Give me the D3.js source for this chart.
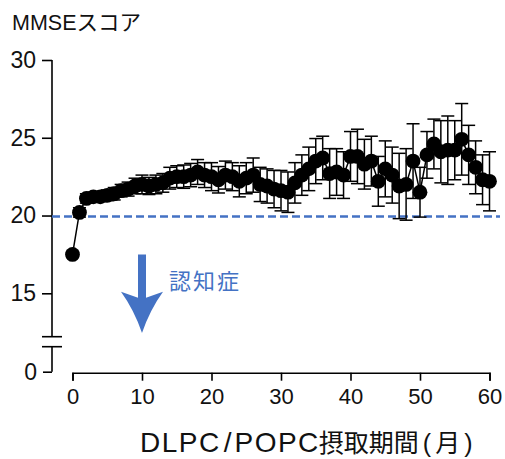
<!DOCTYPE html>
<html>
<head>
<meta charset="utf-8">
<script src="https://cdn.jsdelivr.net/npm/d3@7"></script>
<style>
  html, body { margin: 0; padding: 0; background: #fff; }
  svg { display: block; }
  text { font-family: "Liberation Sans", Arial, "Noto Sans CJK JP", sans-serif; }
</style>
</head>
<body>
<svg id="chart" width="505" height="459"></svg>
<script>
// ---- data ----
const months = d3.range(0, 61);
const mmseMean = [
  17.5, 20.2, 21.1, 21.2, 21.2, 21.3, 21.4, 21.6, 21.7, 21.9,
  22.0, 21.9, 22.0, 22.1, 22.4, 22.5, 22.5, 22.6, 22.8, 22.6,
  22.5, 22.3, 22.6, 22.5, 22.2, 22.4, 22.6, 22.0, 21.9, 21.7,
  21.6, 21.5, 22.1, 22.6, 23.0, 23.5, 23.7, 22.7, 22.8, 22.6,
  23.8, 23.8, 23.3, 23.5, 22.2, 23.0, 22.6, 21.9, 22.0, 23.5,
  21.5, 23.9, 24.6, 24.1, 24.2, 24.2, 24.9, 23.9, 23.1, 22.3,
  22.2
];
const mmseErr = [
  0.2, 0.3, 0.3, 0.3, 0.3, 0.35, 0.4, 0.4, 0.45, 0.5,
  0.6, 0.55, 0.6, 0.6, 0.7, 0.7, 0.75, 0.75, 0.8, 0.8,
  0.9, 0.85, 0.9, 0.9, 1.0, 1.0, 1.1, 1.1, 1.1, 1.2,
  1.3, 1.3, 1.3, 1.3, 1.4, 1.45, 1.4, 1.6, 1.5, 1.5,
  1.6, 1.75, 1.6, 1.6, 1.6, 1.8, 1.8, 2.1, 2.3, 2.4,
  1.6, 1.5, 1.6, 2.0, 2.2, 1.9, 2.3, 1.9, 1.7, 1.6,
  1.9
];
const xTicks = [0, 10, 20, 30, 40, 50, 60];
const yTicks = [15, 20, 25, 30];
const yLowTicks = [0];
const threshold = 20;
const yTitle = "MMSEスコア";
const xTitleParts = ["DLPC", "/", "POPC", "摂取期間", "(", "月", ")"];
const dementiaLabel = "認知症";

// ---- layout ----
const svg = d3.select("#chart");
const blue = "#4472C4";

const x = d3.scaleLinear().domain([0, 60]).range([72.5, 489.5]);
const y = d3.scaleLinear().domain([15, 30]).range([293.3, 60]);
const yLow = d3.scaleLinear().domain([0, 1.6]).range([371.7, 346.7]);
const axisX = 52;
const breakTop = 336.7;

// y axis upper segment
const gy = svg.append("g").attr("transform", `translate(${axisX},0)`)
  .call(d3.axisLeft(y).tickValues(yTicks).tickFormat(d3.format("d"))
    .tickSize(10).tickSizeOuter(0).tickPadding(6));
gy.select(".domain").remove();
gy.append("line").attr("x1", 0).attr("x2", 0).attr("y1", y(30)).attr("y2", breakTop)
  .attr("stroke", "#000").attr("stroke-width", 1.6);

// y axis lower segment
const gyl = svg.append("g").attr("transform", `translate(${axisX},0)`)
  .call(d3.axisLeft(yLow).tickValues(yLowTicks).tickFormat(d3.format("d"))
    .tickSize(9).tickSizeOuter(0).tickPadding(6));
gyl.select(".domain").remove();
gyl.append("line").attr("x1", 0).attr("x2", 0).attr("y1", yLow(1.6)).attr("y2", yLow(0))
  .attr("stroke", "#000").attr("stroke-width", 1.6);

// break marks
[breakTop, yLow(1.6)].forEach(yy => {
  svg.append("line").attr("x1", axisX - 10).attr("x2", axisX + 10)
    .attr("y1", yy).attr("y2", yy).attr("stroke", "#000").attr("stroke-width", 1.6);
});

[gy, gyl].forEach(g => {
  g.selectAll(".tick line").attr("stroke", "#000").attr("stroke-width", 1.6);
  g.selectAll(".tick text").attr("fill", "#111").style("font-size", "23px")
    .attr("font-family", null);
});

// x axis
const gx = svg.append("g").attr("transform", `translate(0,372.7)`)
  .call(d3.axisBottom(x).tickValues(xTicks).tickSize(8).tickPadding(8));
gx.select(".domain").attr("stroke", "#000").attr("stroke-width", 1.6);
gx.selectAll(".tick line").attr("stroke", "#000").attr("stroke-width", 1.6);
gx.selectAll(".tick text").attr("fill", "#111").style("font-size", "22px")
  .attr("font-family", null);

// titles
svg.append("text").attr("x", 12).attr("y", 30).text(yTitle)
  .style("font-size", "21.5px").attr("fill", "#111");

const xt = svg.append("text").attr("x", 140).attr("y", 452)
  .style("font-size", "25px").attr("fill", "#111");
const partStyle = [
  { ls: 1.5, dx: 0, fs: 28 }, { ls: 0, dx: 3, fs: 28 }, { ls: 1.5, dx: 3, fs: 28 },
  { ls: 0, dx: -1, fs: 25 }, { ls: 0, dx: 4, fs: 25 }, { ls: 0, dx: 4, fs: 25 },
  { ls: 0, dx: 4, fs: 25 }
];
xTitleParts.forEach((p, i) => {
  xt.append("tspan").attr("dx", partStyle[i].dx)
    .style("font-size", partStyle[i].fs + "px")
    .style("letter-spacing", partStyle[i].ls + "px").text(p);
});

// threshold dashed line
svg.append("line").attr("x1", axisX).attr("x2", 500)
  .attr("y1", y(threshold) + 1).attr("y2", y(threshold) + 1)
  .attr("stroke", blue).attr("stroke-width", 2.5).attr("stroke-dasharray", "8,4");

// dementia arrow
const ax = x(10);
const aTop = y(17.5), aHeadStart = y(15.1), aTip = y(12.45);
const shaftW = 4, headW = 21;
svg.append("path")
  .attr("d", `M${ax - shaftW},${aTop} L${ax + shaftW},${aTop} L${ax + shaftW},${aHeadStart + 6}
    L${ax + headW},${aHeadStart} Q${ax + 8},${aHeadStart + 18} ${ax},${aTip}
    Q${ax - 8},${aHeadStart + 18} ${ax - headW},${aHeadStart} L${ax - shaftW},${aHeadStart + 6} Z`)
  .attr("fill", blue);
svg.append("text").attr("x", x(13.9)).attr("y", 289).text(dementiaLabel)
  .style("font-size", "22px").style("letter-spacing", "2px").attr("fill", blue)
  .style("font-family", "'Noto Sans CJK JP', sans-serif");

// data
const data = months.map((m, i) => ({ m, v: mmseMean[i], e: mmseErr[i] }));

// error bars
const eb = svg.append("g").attr("stroke", "#000").attr("stroke-width", 1.5);
const capW = 6.5;
data.forEach(d => {
  const top = y(d.v + d.e), bot = y(d.v - d.e), cx = x(d.m);
  eb.append("line").attr("x1", cx).attr("x2", cx).attr("y1", top).attr("y2", bot);
  eb.append("line").attr("x1", cx - capW).attr("x2", cx + capW).attr("y1", top).attr("y2", top);
  eb.append("line").attr("x1", cx - capW).attr("x2", cx + capW).attr("y1", bot).attr("y2", bot);
});

// connecting line
svg.append("path").datum(data)
  .attr("d", d3.line().x(d => x(d.m)).y(d => y(d.v)))
  .attr("fill", "none").attr("stroke", "#000").attr("stroke-width", 1.5);

// markers
svg.append("g").selectAll("circle").data(data).join("circle")
  .attr("cx", d => x(d.m)).attr("cy", d => y(d.v)).attr("r", 7.4).attr("fill", "#000");
</script>
</body>
</html>
